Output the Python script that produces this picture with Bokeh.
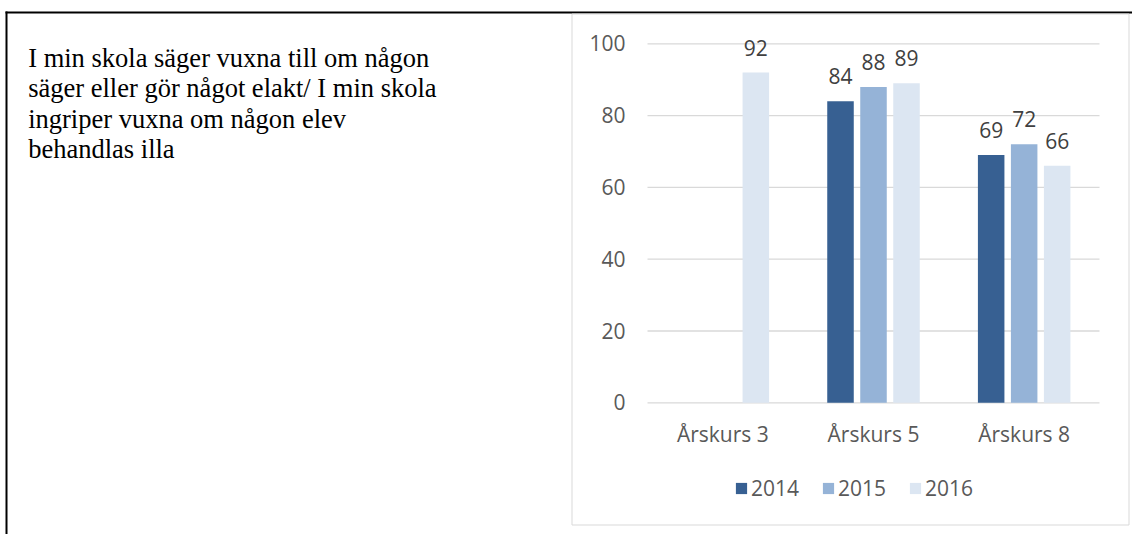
from bokeh.plotting import figure
from bokeh.models import ColumnDataSource, Range1d, LabelSet, Legend, LegendItem
from bokeh.core.properties import value
from bokeh.embed import file_html
from bokeh.resources import INLINE

# ---------------- data ----------------
categories = ["Årskurs 3", "Årskurs 5", "Årskurs 8"]
years = ["2014", "2015", "2016"]
values_2014 = [None, 84, 69]
values_2015 = [None, 88, 72]
values_2016 = [92, 89, 66]
y_ticks = [0, 20, 40, 60, 80, 100]
question_lines = [
    "I min skola säger vuxna till om någon",
    "säger eller gör något elakt/ I min skola",
    "ingriper vuxna om någon elev",
    "behandlas illa",
]

# ---------------- styling / layout ----------------
colors = ["#376092", "#95B3D7", "#DCE6F2"]
offsets = [-0.219, 0.0, 0.219]
bar_width = 0.176
FONT = "Open Sans"
TICK_COLOR = "#595959"
LABEL_COLOR = "#404040"
GRID_COLOR = "#D9D9D9"
PAGE_W, PAGE_H = 1132, 534
PA_LEFT, PA_RIGHT = 647, 1099          # plot-area edges (px)
Y0_PX, Y100_PX = 402.3, 43.3           # pixel rows of value 0 and 100

n = len(categories)
px_per_cat = (PA_RIGHT - PA_LEFT) / n
px_per_unit = (Y0_PX - Y100_PX) / 100.0
x_range = Range1d(-PA_LEFT / px_per_cat, n + (PAGE_W - PA_RIGHT) / px_per_cat)
y_range = Range1d(-(PAGE_H - Y0_PX) / px_per_unit, 100 + Y100_PX / px_per_unit)

p = figure(width=PAGE_W, height=PAGE_H, x_range=x_range, y_range=y_range,
           x_axis_location=None, y_axis_location=None,
           output_backend="svg", toolbar_location=None, min_border=0,
           outline_line_color=None)
p.grid.visible = False
p.extra_x_ranges = {"px": Range1d(0, PAGE_W)}
p.extra_y_ranges = {"px": Range1d(PAGE_H, 0)}

# page frame lines (black) and chart box (light grey)
p.quad(left=[5, 5], right=[PAGE_W, 7], top=[11, 11], bottom=[13, PAGE_H],
       fill_color="black", line_color=None, x_range_name="px", y_range_name="px")
p.quad(left=[571.5], right=[1128.5], top=[13.5], bottom=[524.5],
       fill_color=None, line_color=GRID_COLOR, line_width=1,
       x_range_name="px", y_range_name="px")

# question text
q_src = ColumnDataSource(dict(x=[27.7] * len(question_lines),
                              y=[66, 96.6, 127.2, 157.8], t=question_lines))
p.add_layout(LabelSet(x="x", y="y", text="t", source=q_src,
                      x_range_name="px", y_range_name="px",
                      text_font=value("Liberation Serif"), text_font_size="26.5px",
                      text_color="black", text_baseline="alphabetic", text_align="left"))

# horizontal grid lines across the plot area
p.segment(x0=[0] * len(y_ticks), x1=[n] * len(y_ticks), y0=y_ticks, y1=y_ticks,
          line_color=GRID_COLOR, line_width=1.3)

# y tick labels
yt_src = ColumnDataSource(dict(x=[0] * len(y_ticks), y=y_ticks, t=[str(t) for t in y_ticks]))
p.add_layout(LabelSet(x="x", y="y", text="t", source=yt_src, x_offset=-22, y_offset=-7.5,
                      text_align="right", text_baseline="alphabetic",
                      text_font=value(FONT), text_font_size="21px", text_color=TICK_COLOR))

# category labels
xc_src = ColumnDataSource(dict(x=[i + 0.5 for i in range(n)], y=[0] * n, t=categories))
p.add_layout(LabelSet(x="x", y="y", text="t", source=xc_src, y_offset=-38.7,
                      text_align="center", text_baseline="alphabetic",
                      text_font=value(FONT), text_font_size="21px", text_color=TICK_COLOR))

# bars + value labels
series = [values_2014, values_2015, values_2016]
items = []
for yr, vals, col, off in zip(years, series, colors, offsets):
    xs = [i + 0.5 + off for i, v in enumerate(vals) if v is not None]
    vv = [v for v in vals if v is not None]
    src = ColumnDataSource(dict(x=xs, val=vv, lbl=[str(v) for v in vv]))
    r = p.vbar(x="x", top="val", bottom=0, width=bar_width, source=src,
               fill_color=col, line_color=None)
    items.append(LegendItem(label=yr, renderers=[r]))
    p.add_layout(LabelSet(x="x", y="val", text="lbl", source=src,
                          text_align="center", text_baseline="alphabetic", y_offset=17,
                          text_font=value(FONT), text_font_size="21px", text_color=LABEL_COLOR))

legend = Legend(items=items, orientation="horizontal", location=(734, 32.5),
                glyph_width=14, glyph_height=14, label_standoff=3, spacing=22,
                padding=0, margin=0, border_line_color=None, background_fill_alpha=0,
                label_text_font=FONT, label_text_font_size="21px",
                label_text_color=TICK_COLOR)
p.add_layout(legend, "center")

open("out.html", "w").write(file_html(p, INLINE))
